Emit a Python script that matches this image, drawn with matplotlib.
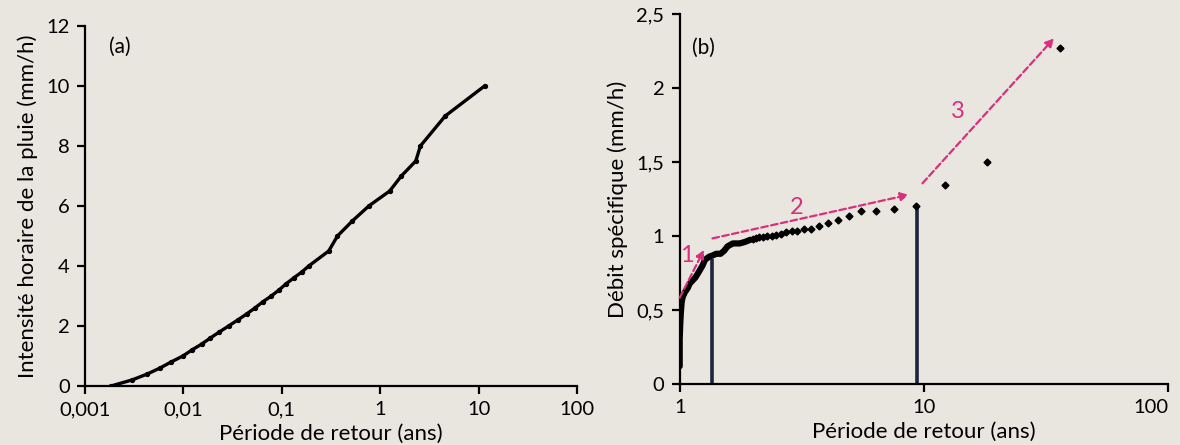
import matplotlib.pyplot as plt
from matplotlib.ticker import FixedLocator

plt.rcParams['font.family'] = ['Lato', 'DejaVu Sans']

# Panneau (a) : intensite horaire de la pluie
periode_a = [0.00184, 0.0030, 0.0043, 0.0058, 0.0075, 0.0099, 0.0122, 0.0154,
             0.0188, 0.0232, 0.0288, 0.0357, 0.0439, 0.0534, 0.0638, 0.0783,
             0.0937, 0.110, 0.132, 0.160, 0.188, 0.300, 0.368, 0.521, 0.766,
             1.25, 1.64, 2.30, 2.56, 4.58, 11.5]
intensite_a = [0.0, 0.2, 0.4, 0.6, 0.8, 1.0, 1.2, 1.4, 1.6, 1.8, 2.0, 2.2,
               2.4, 2.6, 2.8, 3.0, 3.2, 3.4, 3.6, 3.8, 4.0, 4.5, 5.0, 5.5,
               6.0, 6.5, 7.0, 7.5, 8.0, 9.0, 10.0]

# Panneau (b) : debit specifique, partie dense (courbe epaisse)
periode_b_dense = [1.0, 1.0, 1.005, 1.01, 1.015, 1.02, 1.03, 1.05, 1.08, 1.10,
                   1.13, 1.16, 1.20, 1.24, 1.27, 1.32, 1.37, 1.41, 1.47, 1.52,
                   1.57, 1.65, 1.76, 1.85, 1.95]
debit_b_dense = [0.12, 0.30, 0.40, 0.47, 0.52, 0.56, 0.59, 0.62, 0.65, 0.68,
                 0.70, 0.72, 0.76, 0.80, 0.84, 0.86, 0.87, 0.88, 0.88, 0.90,
                 0.93, 0.95, 0.95, 0.96, 0.975]
# points isoles
periode_b = [1.99, 2.05, 2.12, 2.20, 2.28, 2.38, 2.49, 2.60, 2.73, 2.88, 3.03,
             3.23, 3.45, 3.73, 4.04, 4.43, 4.92, 5.53, 6.37, 7.57, 9.3, 12.2,
             18.2, 35.9]
debit_b = [0.980, 0.984, 0.991, 0.995, 0.998, 1.002, 1.007, 1.011, 1.025,
           1.032, 1.032, 1.048, 1.048, 1.066, 1.091, 1.111, 1.134, 1.168,
           1.172, 1.184, 1.205, 1.345, 1.498, 2.268]

# seuils (barres verticales)
seuil_periode = [1.35, 9.39]
seuil_debit = [0.848, 1.195]

# fleches des trois regimes : (x0, y0, x1, y1, etiquette, x_lab, y_lab)
fleches = [
    (1.0, 0.583, 1.259, 0.907, '1', 1.07, 0.87),
    (1.362, 0.984, 8.68, 1.279, '2', 3.0, 1.19),
    (9.86, 1.356, 34.1, 2.336, '3', 13.8, 1.84),
]

fond = '#e9e6e0'
rose = '#d8307c'
marine = '#1c2440'

fig = plt.figure(figsize=(11.8, 4.45), dpi=100, facecolor=fond)
ax1 = fig.add_axes([0.072, 0.1326, 0.417, 0.809])
ax2 = fig.add_axes([0.576, 0.137, 0.414, 0.8315])

for ax in (ax1, ax2):
    ax.set_facecolor(fond)
    ax.spines['top'].set_visible(False)
    ax.spines['right'].set_visible(False)
    for s in ('left', 'bottom'):
        ax.spines[s].set_linewidth(1.6)
    ax.set_xscale('log')
    ax.tick_params(which='major', direction='out', length=6, width=1.6,
                   labelsize=14.5, pad=5)
    ax.tick_params(which='minor', length=0)
    ax.set_xlabel('Période de retour (ans)', fontsize=16, labelpad=4)

# (a)
ax1.plot(periode_a, intensite_a, color='black', lw=2.4, marker='o', ms=2.8)
ax1.set_xlim(0.001, 100)
ax1.set_ylim(0, 12)
ax1.xaxis.set_major_locator(FixedLocator([0.001, 0.01, 0.1, 1, 10, 100]))
ax1.set_xticklabels(['0,001', '0,01', '0,1', '1', '10', '100'])
ax1.set_yticks([0, 2, 4, 6, 8, 10, 12])
ax1.set_yticklabels(['0', '2', '4', '6', '8', '10', '12'])
ax1.set_ylabel('Intensité horaire de la pluie (mm/h)', fontsize=16, labelpad=6)
ax1.text(0.049, 0.97, '(a)', transform=ax1.transAxes, fontsize=15,
         va='top', ha='left')

# (b)
ax2.vlines(seuil_periode, 0, seuil_debit, color=marine, lw=2.6, zorder=2)
ax2.plot(periode_b_dense, debit_b_dense, color='black', lw=4.5,
         solid_capstyle='round', zorder=3)
ax2.plot(periode_b, debit_b, 'D', color='black', ms=3.5, zorder=3)
for x0, y0, x1, y1, lab, xl, yl in fleches:
    ax2.annotate('', xy=(x1, y1), xytext=(x0, y0),
                 arrowprops=dict(arrowstyle='-|>', color=rose, lw=1.6,
                                 linestyle=(0, (3, 1.5)),
                                 mutation_scale=12, shrinkA=0, shrinkB=0))
    ax2.text(xl, yl, lab, color=rose, fontsize=17, ha='center', va='center')
ax2.set_xlim(1, 100)
ax2.set_ylim(0, 2.5)
ax2.xaxis.set_major_locator(FixedLocator([1, 10, 100]))
ax2.set_xticklabels(['1', '10', '100'])
ax2.get_xticklabels()[-1].set_ha('right')
ax2.set_yticks([0, 0.5, 1, 1.5, 2, 2.5])
ax2.set_yticklabels(['0', '0,5', '1', '1,5', '2', '2,5'])
ax2.set_ylabel('Débit spécifique (mm/h)', fontsize=16, labelpad=6)
ax2.text(0.025, 0.935, '(b)', transform=ax2.transAxes, fontsize=15,
         va='top', ha='left')

fig.savefig('out.png', dpi=100, facecolor=fond)
